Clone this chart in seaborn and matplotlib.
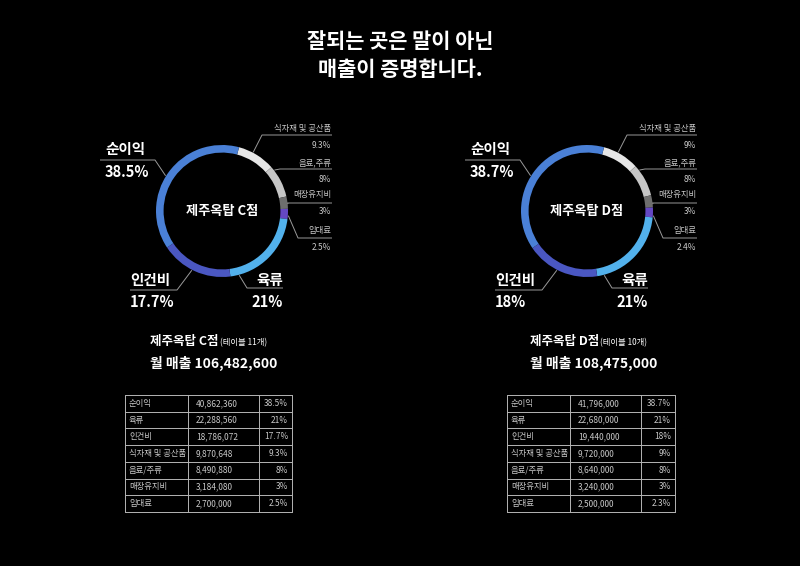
import matplotlib
matplotlib.use("Agg")
import matplotlib.pyplot as plt
import seaborn as sns
import numpy as np

# ---------------- data ----------------
title_lines = ["잘되는 곳은 말이 아닌", "매출이 증명합니다."]
store_names = ["제주옥탑 C점", "제주옥탑 D점"]
table_counts = ["(테이블 11개)", "(테이블 10개)"]
monthly_sales = ["106,482,600", "108,475,000"]

# donut order (clockwise from the top-left)
categories = ["식자재 및 공산품", "음료,주류", "매장유지비", "임대료", "육류", "인건비", "순이익"]
pct_c = [9.3, 8, 3, 2.5, 21, 17.7, 38.5]
pct_d = [9, 8, 3, 2.4, 21, 18, 38.7]

# tables
table_rows = ["순이익", "육류", "인건비", "식자재 및 공산품", "음료/주류", "매장유지비", "임대료"]
amount_c = ["40,862,360", "22,288,560", "18,786,072", "9,870,648", "8,490,880", "3,184,080", "2,700,000"]
share_c = ["38.5%", "21%", "17.7%", "9.3%", "8%", "3%", "2.5%"]
amount_d = ["41,796,000", "22,680,000", "19,440,000", "9,720,000", "8,640,000", "3,240,000", "2,500,000"]
share_d = ["38.7%", "21%", "18%", "9%", "8%", "3%", "2.3%"]

# ---------------- style ----------------
sns.set_theme(style="dark", rc={"figure.facecolor": "black", "axes.facecolor": "black",
                                "savefig.facecolor": "black"})
plt.rcParams["font.family"] = ["Noto Sans CJK KR", "DejaVu Sans"]

ring_colors = sns.color_palette(["#e6e6e6", "#c6c6c6", "#6e6e6e", "#6448c4",
                                 "#52b1ec", "#4a57c2", "#4a80d6"])

W, H = 800, 566
fig = plt.figure(figsize=(W / 100, H / 100), dpi=100)
ov = fig.add_axes([0, 0, 1, 1])
ov.set_xlim(0, W)
ov.set_ylim(H, 0)
ov.axis("off")

# title
ov.text(400, 42, title_lines[0], ha="center", va="center", color="white",
        fontsize=15, fontweight="bold")
ov.text(400, 70, title_lines[1], ha="center", va="center", color="white",
        fontsize=15, fontweight="bold")

R = 66  # ring radius in px
LINE_C = "#9a9a9a"
SMALL_C = "#c8c8c8"

# label layout relative to the donut centre: (ref angle, elbow, end, text x, name y, value y, ha, big)
layout = {
    "식자재 및 공산품": (62, (40, -76), (110, -76), 109, -82, -66, "right", False),
    "음료,주류": (38, (58, -42), (110, -42), 109, -48, -32, "right", False),
    "매장유지비": (6, (65, -8), (110, -8), 109, -16, 0, "right", False),
    "임대료": (-4, (76, 27), (110, 27), 109, 19, 36, "right", False),
    "육류": (-75, (25, 77), (61, 77), 61, 69, 91, "right", True),
    "인건비": (-117, (-45, 79), (-92, 79), -92, 69, 91, "left", True),
    "순이익": (148, (-67, -51), (-122, -51), -117, -62, -39, "left", True),
}


def draw_donut(cx, cy, values, name):
    ax = fig.add_axes([(cx - R) / W, (H - cy - R) / H, 2 * R / W, 2 * R / H])
    wedges, _ = ax.pie(values, colors=ring_colors, startangle=75, counterclock=False,
                       radius=1, wedgeprops=dict(width=0.115, edgecolor="none"))
    ax.set_xlim(-1, 1)
    ax.set_ylim(-1, 1)
    ax.set_aspect("auto")
    ax.axis("off")
    ax.text(0, 0, name, ha="center", va="center", color="white",
            fontsize=9.5, fontweight="bold")
    for cat, val, w in zip(categories, values, wedges):
        ang, elbow, end, tx, ny, vy, ha, big = layout[cat]
        lo, hi = min(w.theta1, w.theta2), max(w.theta1, w.theta2)
        a = ang
        while a < lo:
            a += 360
        while a > hi:
            a -= 360
        a = float(np.clip(a, lo + 1.5, hi - 1.5))
        px = cx + (R + 0.5) * np.cos(np.radians(a))
        py = cy - (R + 0.5) * np.sin(np.radians(a))
        ov.plot([px, cx + elbow[0], cx + end[0]], [py, cy + elbow[1], cy + end[1]],
                color=LINE_C, lw=0.7, solid_capstyle="butt")
        if big:
            ov.text(cx + tx, cy + ny, cat, ha=ha, va="center",
                    color="white", fontsize=10.5, fontweight="bold")
            ov.text(cx + tx, cy + vy, f"{val:g}%", ha=ha, va="center",
                    color="white", fontsize=10.5, fontweight="bold")
        else:
            ov.text(cx + tx, cy + ny, cat, ha=ha, va="center",
                    color=SMALL_C, fontsize=6)
            ov.text(cx + tx, cy + vy, f"{val:g}%", ha=ha, va="center",
                    color=SMALL_C, fontsize=6)


def draw_table(x_cols, top, rows, amounts, shares):
    rh = 16.7
    n = len(rows)
    x0, x1, x2, x3 = x_cols
    for i in range(n + 1):
        ov.plot([x0, x3], [top + i * rh, top + i * rh], color="#b5b5b5", lw=0.7)
    for x in x_cols:
        ov.plot([x, x], [top, top + n * rh], color="#b5b5b5", lw=0.7)
    for i, (r, a, s) in enumerate(zip(rows, amounts, shares)):
        y = top + (i + 0.5) * rh
        ov.text(x0 + 4, y, r, ha="left", va="center", color=SMALL_C, fontsize=6)
        ov.text(x1 + 8, y, a, ha="left", va="center", color=SMALL_C, fontsize=6)
        ov.text(x3 - 4, y, s, ha="right", va="center", color=SMALL_C, fontsize=6)


centres = [(222, 211), (587, 211)]
values_all = [pct_c, pct_d]
sub_x = [150, 530]
tables = [([125, 188, 259, 292], amount_c, share_c), ([507, 570, 641, 675], amount_d, share_d)]

for k in range(2):
    cx, cy = centres[k]
    draw_donut(cx, cy, values_all[k], store_names[k])
    ov.text(sub_x[k], 342, store_names[k], ha="left", va="center", color="white",
            fontsize=9, fontweight="bold")
    ov.text(sub_x[k] + 70, 343, table_counts[k], ha="left", va="center", color="white",
            fontsize=6)
    ov.text(sub_x[k], 363, "월 매출 " + monthly_sales[k], ha="left", va="center",
            color="white", fontsize=10, fontweight="bold")
    cols, am, sh = tables[k]
    draw_table(cols, 395, table_rows, am, sh)

fig.savefig("out.png", dpi=100, facecolor="black")
